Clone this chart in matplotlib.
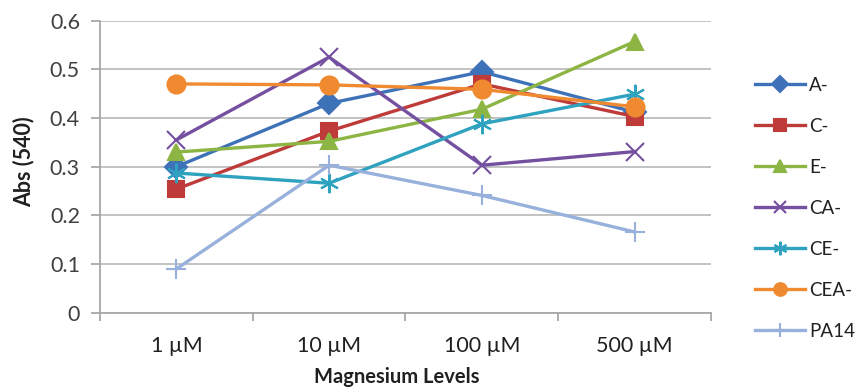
import matplotlib.pyplot as plt
import numpy as np

plt.rcParams['font.family'] = ['Lato', 'DejaVu Sans']

levels = ['1 µM', '10 µM', '100 µM', '500 µM']
a_minus = [0.30, 0.43, 0.495, 0.412]
c_minus = [0.254, 0.373, 0.470, 0.403]
e_minus = [0.330, 0.352, 0.418, 0.557]
ca_minus = [0.355, 0.525, 0.303, 0.331]
ce_minus = [0.287, 0.266, 0.388, 0.449]
cea_minus = [0.470, 0.468, 0.459, 0.423]
pa14 = [0.090, 0.303, 0.241, 0.166]

series = [
    ('A-', a_minus, '#3E72B8', 'D', 11),
    ('C-', c_minus, '#BE3B3A', 's', 12),
    ('E-', e_minus, '#8DB544', '^', 12),
    ('CA-', ca_minus, '#7550A0', 'x', 13),
    ('CE-', ce_minus, '#2EA2BE', (6, 2, 0), 14),
    ('CEA-', cea_minus, '#F08A30', 'o', 13),
    ('PA14', pa14, '#98B1DC', '+', 14),
]

fig = plt.figure(figsize=(8.6, 3.89), dpi=100)
ax = fig.add_axes([0.1163, 0.196, 0.7104, 0.751])

x = np.arange(len(levels))
for name, vals, col, mk, ms in series:
    ax.plot(x, vals, color=col, lw=2.4, marker=mk, markersize=ms,
            markeredgewidth=1.5, markeredgecolor=col, label=name)

ax.set_xlim(-0.5, len(levels) - 0.5)
ax.set_ylim(0, 0.6)
ax.set_yticks(np.arange(0, 0.61, 0.1))
ax.set_yticklabels(['0', '0.1', '0.2', '0.3', '0.4', '0.5', '0.6'])
ax.set_xticks(x)
ax.set_xticklabels(levels)
ax.set_xticks(np.arange(-0.5, len(levels), 1), minor=True)

ax.grid(axis='y', color='#BDBDBD', lw=1.3)
ax.set_axisbelow(True)
for s in ['top', 'right']:
    ax.spines[s].set_visible(False)
for s in ['left', 'bottom']:
    ax.spines[s].set_color('#A8A8A8')
    ax.spines[s].set_linewidth(1.3)

ax.tick_params(axis='y', length=6.5, width=1.3, color='#A8A8A8', labelsize=15.5,
               labelcolor='#404040', pad=8)
ax.tick_params(axis='x', which='major', length=0, labelsize=15.5,
               labelcolor='#202020', pad=17)
ax.tick_params(axis='x', which='minor', length=6, width=1.3, color='#A8A8A8')

ax.set_ylabel('Abs (540)', fontsize=15.5, fontweight='bold', color='#202020')
ax.set_xlabel('Magnesium Levels', fontsize=14.5, fontweight='bold', color='#202020')
ax.yaxis.set_label_coords(-0.108, 0.518)
ax.xaxis.set_label_coords(0.486, -0.185)

leg = ax.legend(loc='upper left', bbox_to_anchor=(1.044, 0.865), frameon=False,
                fontsize=13.5, handlelength=2.7, handletextpad=0.2,
                labelspacing=1.28, markerscale=0.7)
for t in leg.get_texts():
    t.set_color('#202020')

plt.savefig('out.png', dpi=100)
